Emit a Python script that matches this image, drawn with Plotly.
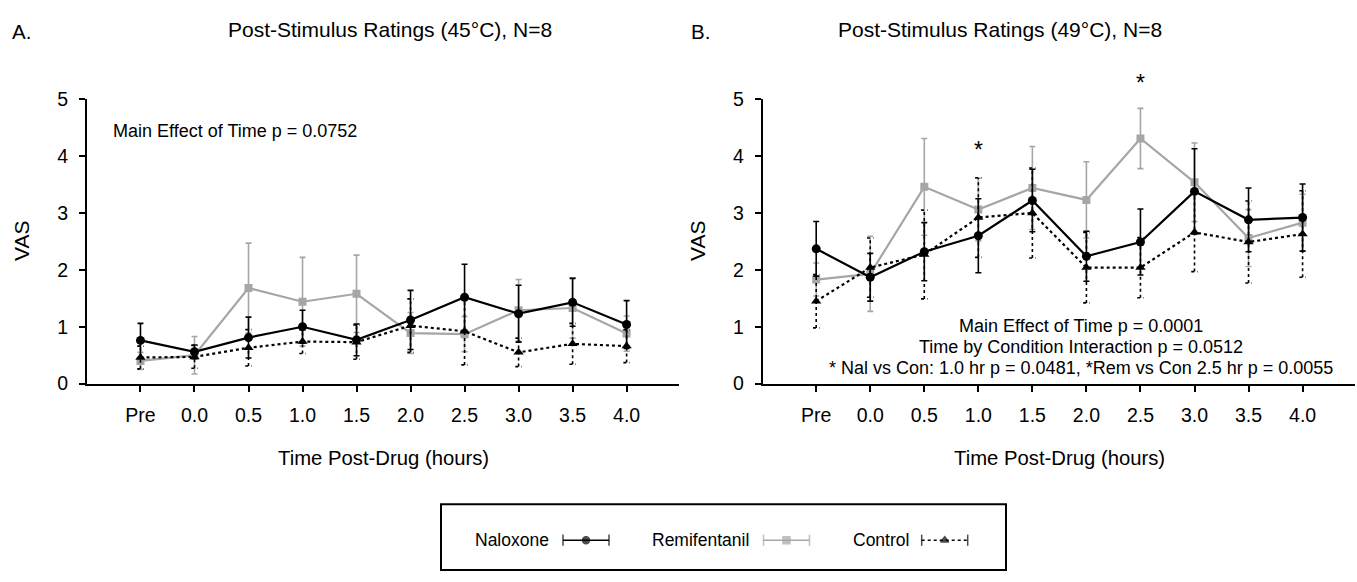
import plotly.graph_objects as go

W, H = 1357, 582

# Time points (x categories)
time_labels = ["Pre", "0.0", "0.5", "1.0", "1.5", "2.0", "2.5", "3.0", "3.5", "4.0"]

# 45°C post-stimulus VAS ratings (mean, SEM)
nal_45 = [0.76, 0.56, 0.81, 1.00, 0.77, 1.12, 1.52, 1.23, 1.43, 1.04]
nal_45_se = [0.30, 0.12, 0.36, 0.29, 0.28, 0.52, 0.58, 0.50, 0.42, 0.42]
rem_45 = [0.40, 0.50, 1.68, 1.44, 1.58, 0.89, 0.87, 1.29, 1.33, 0.88]
rem_45_se = [0.15, 0.33, 0.79, 0.78, 0.68, 0.36, 0.31, 0.54, 0.53, 0.31]
con_45 = [0.46, 0.47, 0.63, 0.74, 0.73, 1.02, 0.92, 0.55, 0.70, 0.66]
con_45_se = [0.20, 0.20, 0.32, 0.21, 0.30, 0.47, 0.59, 0.25, 0.36, 0.29]

# 49°C post-stimulus VAS ratings (mean, SEM)
nal_49 = [2.37, 1.87, 2.32, 2.60, 3.22, 2.24, 2.49, 3.38, 2.88, 2.92]
nal_49_se = [0.48, 0.42, 0.51, 0.65, 0.55, 0.44, 0.58, 0.75, 0.56, 0.59]
rem_49 = [1.83, 1.93, 3.46, 3.06, 3.44, 3.23, 4.31, 3.54, 2.56, 2.83]
rem_49_se = [0.29, 0.66, 0.85, 0.55, 0.73, 0.67, 0.53, 0.69, 0.50, 0.50]
con_49 = [1.45, 2.04, 2.27, 2.92, 3.00, 2.04, 2.04, 2.66, 2.49, 2.63]
con_49_se = [0.47, 0.52, 0.78, 0.70, 0.79, 0.62, 0.53, 0.69, 0.72, 0.76]

# Significance markers on panel B: (time index, VAS height of the asterisk)
sig_marks = [(3, 4.10), (6, 5.28)]

FONT = "Liberation Sans, Arial, Helvetica, sans-serif"
BLACK = "#000000"
GRAY = "#a6a6a6"

xs = list(range(len(time_labels)))

# Plot area in pixels
Y_BOT, Y_TOP = 387.3, 91.7
Y_MAX = 5


def px(x):
    return x / W


def py(y):
    return 1 - y / H


def vas_to_paper(v):
    return py(Y_BOT - v * (Y_BOT - Y_TOP) / Y_MAX)


fig = go.Figure()


def err_segments(means, ses, half=0.06):
    """Vertical whiskers plus caps as one path with gaps."""
    sx, sy = [], []
    for i, (m, s) in enumerate(zip(means, ses)):
        lo, hi = m - s, m + s
        sx += [i, i, None, i - half, i + half, None, i - half, i + half, None]
        sy += [lo, hi, None, lo, lo, None, hi, hi, None]
    return sx, sy


def add_panel(nal, nal_se, rem, rem_se, con, con_se, xa, ya):
    # Remifentanil: grey squares, solid grey line
    fig.add_trace(go.Scatter(
        x=xs, y=rem, mode="lines+markers", xaxis=xa, yaxis=ya, showlegend=False,
        line=dict(color=GRAY, width=2.2),
        marker=dict(symbol="square", size=8, color=GRAY),
        error_y=dict(type="data", array=rem_se, visible=True,
                     color=GRAY, thickness=1.6, width=3),
    ))
    # Control: dotted whiskers
    ex, ey = err_segments(con, con_se)
    fig.add_trace(go.Scatter(
        x=ex, y=ey, mode="lines", xaxis=xa, yaxis=ya, showlegend=False,
        line=dict(color=BLACK, width=1.6, dash="dot"), hoverinfo="skip",
    ))
    # Control: black triangles, dotted line
    fig.add_trace(go.Scatter(
        x=xs, y=con, mode="lines+markers", xaxis=xa, yaxis=ya, showlegend=False,
        line=dict(color=BLACK, width=2.2, dash="dot"),
        marker=dict(symbol="triangle-up", size=9, color=BLACK),
    ))
    # Naloxone: black circles, solid black line
    fig.add_trace(go.Scatter(
        x=xs, y=nal, mode="lines+markers", xaxis=xa, yaxis=ya, showlegend=False,
        line=dict(color=BLACK, width=2.2),
        marker=dict(symbol="circle", size=9, color=BLACK),
        error_y=dict(type="data", array=nal_se, visible=True,
                     color=BLACK, thickness=1.6, width=3),
    ))


add_panel(nal_45, nal_45_se, rem_45, rem_45_se, con_45, con_45_se, "x", "y")
add_panel(nal_49, nal_49_se, rem_49, rem_49_se, con_49, con_49_se, "x2", "y2")

# Legend glyphs drawn on a pixel-scaled helper axis pair
leg_y = 550
glyphs = [
    (586, BLACK, "circle", 7, "solid"),
    (786.5, GRAY, "square", 7, "solid"),
    (944.7, BLACK, "triangle-up", 7, "dot"),
]
for cx, col, sym, sz, dash in glyphs:
    fig.add_trace(go.Scatter(
        x=[cx - 23, cx + 23], y=[leg_y, leg_y], mode="lines", xaxis="x3", yaxis="y3",
        showlegend=False, line=dict(color=col, width=1.5, dash=dash), hoverinfo="skip",
    ))
    fig.add_trace(go.Scatter(
        x=[cx - 23, cx, cx + 23], y=[leg_y] * 3, mode="markers", xaxis="x3", yaxis="y3",
        showlegend=False, hoverinfo="skip",
        marker=dict(symbol=["line-ns", sym, "line-ns"], size=[8, sz, 8], color=col,
                    line=dict(color=col, width=1.5)),
    ))

axis_common = dict(
    showline=True, linecolor=BLACK, linewidth=1.8, ticks="outside", ticklen=6,
    tickwidth=1.5, tickcolor=BLACK, showgrid=False, zeroline=False,
    tickfont=dict(family=FONT, size=19.5, color=BLACK),
)
xrange = [-0.99, 9.97]
y_dom = [py(Y_BOT), py(Y_TOP)]
x_extra = dict(tickmode="array", tickvals=xs, ticktext=time_labels,
               ticklabelstandoff=7)
y_extra = dict(range=[0, Y_MAX], tickvals=[0, 1, 2, 3, 4, 5], ticklabelstandoff=7)

fig.update_layout(
    width=W, height=H,
    margin=dict(l=0, r=0, t=0, b=0),
    paper_bgcolor="white", plot_bgcolor="rgba(0,0,0,0)",
    font=dict(family=FONT, color=BLACK),
    xaxis=dict(domain=[px(87), px(679)], range=xrange, anchor="y",
               **x_extra, **axis_common),
    yaxis=dict(domain=y_dom, anchor="x", **y_extra, **axis_common),
    xaxis2=dict(domain=[px(762.7), px(1355)], range=xrange, anchor="y2",
                **x_extra, **axis_common),
    yaxis2=dict(domain=y_dom, anchor="x2", **y_extra, **axis_common),
    xaxis3=dict(domain=[0, 1], range=[0, W], visible=False, fixedrange=True,
                anchor="y3"),
    yaxis3=dict(domain=[0, 1], range=[H, 0], visible=False, fixedrange=True,
                anchor="x3"),
)


def text(x, y, s, size=18.5, angle=0, xanchor="center"):
    fig.add_annotation(x=px(x), y=py(y), xref="paper", yref="paper", text=s,
                       showarrow=False, textangle=angle, xanchor=xanchor,
                       yanchor="middle", font=dict(family=FONT, size=size, color=BLACK))


# Panel labels and titles
text(10, 21, "A.", size=20.5, xanchor="left")
text(689, 21, "B.", size=20.5, xanchor="left")
text(389.5, 19, "Post-Stimulus Ratings (45°C), N=8", size=21)
text(1000, 19, "Post-Stimulus Ratings (49°C), N=8", size=21)

# Axis titles
text(22, 239, "VAS", size=21, angle=-90)
text(698, 239, "VAS", size=21, angle=-90)
text(383, 465, "Time Post-Drug (hours)", size=20.3)
text(1059, 465, "Time Post-Drug (hours)", size=20.3)

# Statistics text
text(111, 125, "Main Effect of Time p = 0.0752", size=18, xanchor="left")
text(1081, 327, "Main Effect of Time p = 0.0001", size=18)
text(1081, 349, "Time by Condition Interaction p = 0.0512", size=18)
text(1081, 371.5, "* Nal vs Con: 1.0 hr p = 0.0481, *Rem vs Con 2.5 hr p = 0.0055", size=18)

for i, yv in sig_marks:
    fig.add_annotation(x=i, y=vas_to_paper(yv), xref="x2", yref="paper", text="*",
                       showarrow=False, yanchor="middle",
                       font=dict(family=FONT, size=23, color=BLACK))

# Legend box and labels
fig.add_shape(type="rect", xref="paper", yref="paper",
              x0=px(441), x1=px(1006), y0=py(581), y1=py(512.5),
              line=dict(color=BLACK, width=2), fillcolor="rgba(0,0,0,0)")
text(473, leg_y, "Naloxone", size=17.5, xanchor="left")
text(650, leg_y, "Remifentanil", size=17.5, xanchor="left")
text(851, leg_y, "Control", size=17.5, xanchor="left")

fig.write_html("out.html")
